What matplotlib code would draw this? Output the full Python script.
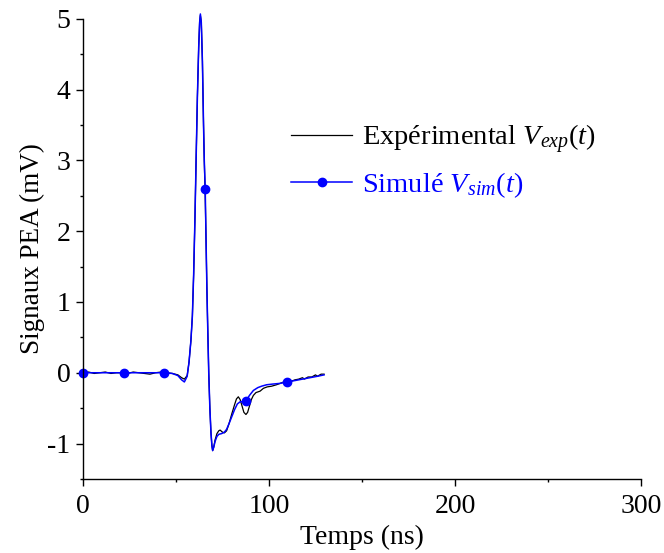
import numpy as np
import matplotlib
matplotlib.use("Agg")
import matplotlib.pyplot as plt

plt.rcParams['font.family'] = ['Liberation Serif', 'DejaVu Serif']
plt.rcParams['mathtext.fontset'] = 'custom'
plt.rcParams['mathtext.rm'] = 'Liberation Serif'
plt.rcParams['mathtext.it'] = 'Liberation Serif:italic'
plt.rcParams['axes.unicode_minus'] = False

# DATA
exp_t = [0, 3, 6, 9, 12, 15, 18, 21, 24, 27, 30, 33, 36, 39, 42, 45, 48,
         51, 53, 54.5, 56, 57, 58, 58.8, 59.5, 60.2, 60.8, 61.5, 62.2, 62.7,
         63.1, 63.6, 64.2, 64.8, 65.2, 65.7, 66.2, 66.6, 67.0, 67.6, 68.2,
         68.8, 69.3, 69.7, 70.3, 71, 72, 73, 73.7, 75, 76, 77.2, 78.5, 80,
         81.5, 82.5, 83.5, 84.5, 85.5, 86.5, 87.6, 88.5, 89.5, 90.5, 91.6,
         93, 95.2, 97, 99, 101.4, 104, 106, 108, 110, 112, 114, 116, 118,
         119, 121, 123, 125, 126, 128, 129.6]
exp_v = [0.0, 0.01, -0.01, 0.0, 0.01, -0.01, 0.0, 0.0, -0.01, 0.01, 0.0,
         -0.01, -0.02, 0.0, 0.01, 0.0, -0.01,
         -0.03, -0.07, -0.09, -0.04, 0.15, 0.45, 0.8, 1.4, 2.2, 3.0, 3.9,
         4.6, 4.95, 5.05, 4.95, 4.4, 3.5, 3.0, 2.5, 1.8, 1.2, 0.7, 0.0, -0.5,
         -0.85, -1.03, -1.1, -1.05, -0.95, -0.86, -0.82, -0.81, -0.84, -0.85,
         -0.82, -0.72, -0.58, -0.45, -0.37, -0.34, -0.38, -0.47, -0.56,
         -0.59, -0.56, -0.47, -0.38, -0.32, -0.28, -0.26, -0.22, -0.2, -0.19,
         -0.17, -0.15, -0.13, -0.12, -0.12, -0.1, -0.09, -0.07, -0.09, -0.06,
         -0.06, -0.03, -0.05, -0.02, -0.02]

sim_t = [0, 10, 21.9, 30, 43.8, 48, 51, 53, 54.5, 56, 57, 58, 58.8, 59.5,
         60.2, 60.8, 61.5, 62.2, 62.7, 63.1, 63.6, 64.2, 64.8, 65.2, 65.7,
         66.2, 66.6, 67.0, 67.6, 68.2, 68.8, 69.3, 69.7, 70.3, 71, 72, 73,
         74.5, 76, 77.2, 78.5, 80, 81.5, 83, 84.5, 86, 87.6, 89.5, 91.6, 94,
         96, 98.7, 102, 106, 109.5, 114, 118, 122, 126, 129.6]
sim_v = [0.0, 0.0, 0.0, 0.0, 0.0, -0.01, -0.04, -0.1, -0.13, -0.05, 0.15,
         0.45, 0.8, 1.4, 2.2, 3.0, 3.9, 4.6, 4.95, 5.07, 4.95, 4.4, 3.5, 3.0,
         2.6, 1.8, 1.2, 0.7, 0.0, -0.5, -0.85, -1.03, -1.1, -1.05, -0.97,
         -0.9, -0.87, -0.86, -0.84, -0.8, -0.72, -0.62, -0.52, -0.44, -0.41,
         -0.41, -0.4, -0.32, -0.25, -0.21, -0.19, -0.17, -0.16, -0.15, -0.13,
         -0.11, -0.09, -0.07, -0.05, -0.03]
sim_marks = [0, 2, 4, 24, 46, 54]

fig = plt.figure(figsize=(6.64, 5.53), dpi=100)
ax = fig.add_axes([0.125, 0.134, 0.8404, 0.8318])

ax.plot(exp_t, exp_v, color='black', lw=0.9,
        label=r'Expérimental $\mathit{V_{exp}(t)}$')
ax.plot(sim_t, sim_v, color='blue', lw=1.1, marker='o', markersize=6,
        markevery=sim_marks, label=r'Simulé $\mathit{V_{sim}(t)}$')

ax.set_xlim(0, 300)
ax.set_ylim(-1.5, 5)
ax.set_xticks([0, 100, 200, 300])
ax.set_xticks([50, 150, 250], minor=True)
ax.set_yticks([-1, 0, 1, 2, 3, 4, 5])
ax.set_yticks(np.arange(-1.5, 5.01, 0.5), minor=True)
ax.tick_params(which='major', direction='out', length=5, width=1, labelsize=20, pad=4)
ax.tick_params(axis='x', which='major', pad=6)
ax.tick_params(which='minor', direction='out', length=2.5, width=1)
ax.spines['top'].set_visible(False)
ax.spines['right'].set_visible(False)
for s in ['left', 'bottom']:
    ax.spines[s].set_linewidth(1)
for line in ax.lines:
    line.set_clip_on(False)

ax.set_xlabel('Temps (ns)', fontsize=20, labelpad=4)
ax.set_ylabel('Signaux PEA (mV)', fontsize=19.5, labelpad=2)

ax.legend(loc='upper left', bbox_to_anchor=(0.373, 0.775), frameon=False,
          fontsize=20.5, handlelength=2.15, handletextpad=0.35, labelspacing=0.48,
          borderpad=0, borderaxespad=0, labelcolor='linecolor')

plt.savefig('out.png', dpi=100)
